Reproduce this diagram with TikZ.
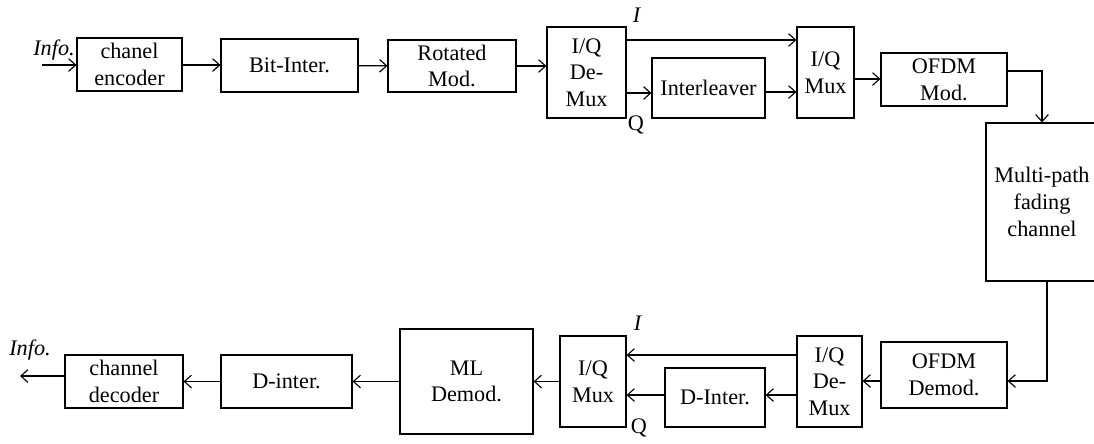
\documentclass[tikz,border=0pt]{standalone}
\usepackage{fontspec}
\setmainfont{Liberation Serif}
\usetikzlibrary{arrows.meta,calc}

\begin{document}
\begin{tikzpicture}[x=0.025cm, y=-0.025cm, line width=0.8pt,
    >={Straight Barb[length=5pt,width=9pt]},
    blk/.style={draw, align=center, inner sep=0pt, font=\fontsize{15.8}{19}\selectfont},
    lbl/.style={inner sep=0pt, font=\fontsize{15.8}{19}\selectfont}]
    \useasboundingbox (0,0) rectangle (1094,443);
    \clip (0,0) rectangle (1094,443);

    % Transmitter
    \node[blk, minimum width=2.625cm, minimum height=1.325cm] (enc) at (129.5,64.5) {chanel\\encoder};
    \node[blk, minimum width=3.425cm, minimum height=1.325cm] (bitint) at (289.5,65.5) {Bit-Inter.};
    \node[blk, minimum width=3.2cm, minimum height=1.3cm] (rot) at (452,66) {Rotated\\Mod.};
    \node[blk, minimum width=1.975cm, minimum height=2.275cm] (demuxa) at (586.5,72.5) {I/Q\\De-\\Mux};
    \node[blk, minimum width=2.825cm, minimum height=1.5cm] (intl) at (708.5,88) {Interleaver};
    \node[blk, minimum width=1.425cm, minimum height=2.275cm] (muxa) at (825.5,72.5) {I/Q\\Mux};
    \node[blk, minimum width=3.15cm, minimum height=1.325cm] (ofdma) at (944,79.5) {OFDM\\Mod.};
    \node[blk, minimum width=2.8cm, minimum height=3.95cm] (chan) at (1042,202) {Multi-path\\fading\\channel};

    \coordinate (infoin) at (42,65);
    \node[lbl] (infoa) at (54,50) {\textit{Info.}};
    \node[lbl] (ia) at (637,15) {\textit{I}};
    \node[lbl] (qa) at (636,125) {Q};

    \draw [->] (infoin) -- (enc.west |- infoin);
    \draw [->] (enc.east |- 0,65) -- (bitint.west |- 0,65);
    \draw [->] (bitint) -- (rot);
    \draw [->] (rot.east) -- (demuxa.west |- rot.east);
    \draw [->] (demuxa.east |- 0,40) -- (muxa.west |- 0,40);
    \draw [->] (demuxa.east |- 0,93) -- (intl.west |- 0,93);
    \draw [->] (intl.east |- 0,92) -- (muxa.west |- 0,92);
    \draw [->] (muxa.east |- 0,79) -- (ofdma.west |- 0,79);
    \draw [->] (ofdma.east |- 0,71) -| (chan.north);

    % Receiver
    \node[blk, minimum width=3.15cm, minimum height=1.65cm] (ofdmb) at (944,375) {OFDM\\Demod.};
    \node[blk, minimum width=1.625cm, minimum height=2.275cm] (demuxb) at (829.5,381.5) {I/Q\\De-\\Mux};
    \node[blk, minimum width=2.5cm, minimum height=1.475cm] (dint) at (715,397.5) {D-Inter.};
    \node[blk, minimum width=1.65cm, minimum height=2.275cm] (muxb) at (593,381.5) {I/Q\\Mux};
    \node[blk, minimum width=3.325cm, minimum height=2.625cm] (ml) at (466.5,381.5) {ML\\Demod.};
    \node[blk, minimum width=3.275cm, minimum height=1.325cm] (dintb) at (286.5,381.5) {D-inter.};
    \node[blk, minimum width=2.95cm, minimum height=1.325cm] (dec) at (124,381.5) {channel\\decoder};

    \coordinate (infoout) at (20,376);
    \node[lbl] (infob) at (30,350) {\textit{Info.}};
    \node[lbl] (ib) at (638,323) {\textit{I}};
    \node[lbl] (qb) at (639,428) {Q};

    \draw [->] ($(chan.south)+(5,0)$) |- (ofdmb.east |- 0,381);
    \draw [->] (ofdmb.west |- 0,381) -- (demuxb.east |- 0,381);
    \draw [->] (demuxb.west |- 0,355) -- (muxb.east |- 0,355);
    \draw [->] (demuxb.west |- 0,395) -- (dint.east |- 0,395);
    \draw [->] (dint.west |- 0,395) -- (muxb.east |- 0,395);
    \draw [->] (muxb.west) -- (ml.east);
    \draw [->] (ml.west) -- (dintb.east);
    \draw [->] (dintb.west) -- (dec.east);
    \draw [->] (dec.west |- infoout) -- (infoout);
\end{tikzpicture}
\end{document}
